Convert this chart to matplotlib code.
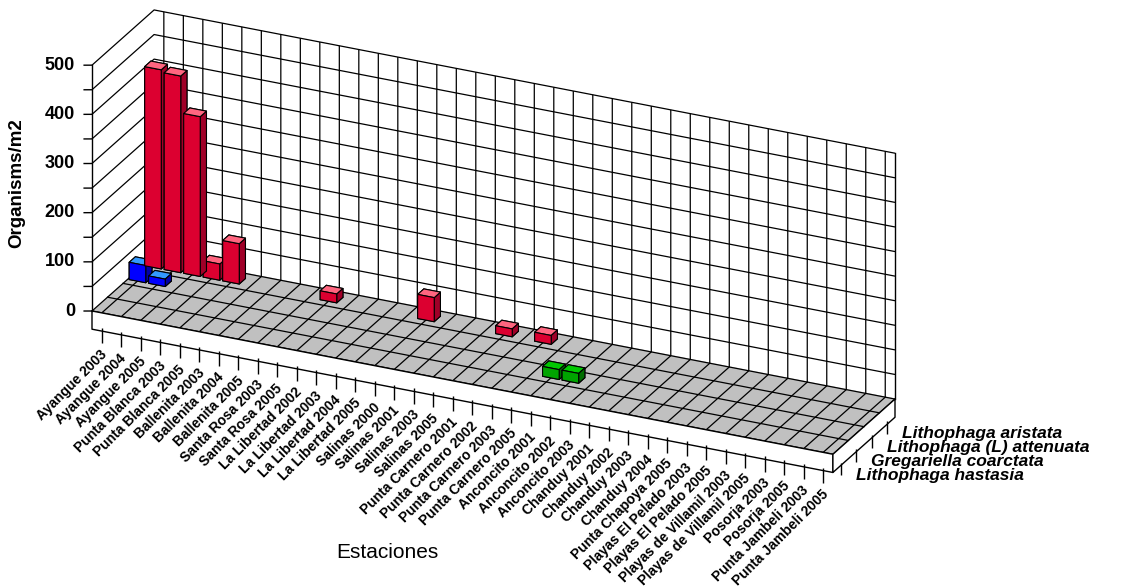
import numpy as np
import matplotlib
matplotlib.use("Agg")
import matplotlib.pyplot as plt
from matplotlib.transforms import IdentityTransform
from mpl_toolkits.mplot3d import proj3d
from mpl_toolkits.mplot3d.art3d import Poly3DCollection, Line3DCollection

plt.rcParams["font.family"] = ["Liberation Sans", "DejaVu Sans"]
plt.rcParams["grid.color"] = "black"
plt.rcParams["grid.linewidth"] = 0.9
plt.rcParams["axes.edgecolor"] = "black"

estaciones = ["Ayangue 2003", "Ayangue 2004", "Ayangue 2005", "Punta Blanca 2003",
              "Punta Blanca 2005", "Ballenita 2003", "Ballenita 2004", "Ballenita 2005",
              "Santa Rosa 2003", "Santa Rosa 2005", "La Libertad 2002", "La Libertad 2003",
              "La Libertad 2004", "La Libertad 2005", "Salinas 2000", "Salinas 2001",
              "Salinas 2003", "Salinas 2005", "Punta Carnero 2001", "Punta Carnero 2002",
              "Punta Carnero 2003", "Punta Carnero 2005", "Anconcito 2001", "Anconcito 2002",
              "Anconcito 2003", "Chanduy 2001", "Chanduy 2002", "Chanduy 2003",
              "Chanduy 2004", "Punta Chapoya 2005", "Playas El Pelado 2003",
              "Playas El Pelado 2005", "Playas de Villamil 2003", "Playas de Villamil 2005",
              "Posorja 2003", "Posorja 2005", "Punta Jambeli 2003", "Punta Jambeli 2005"]

especies = ["Lithophaga hastasia", "Gregariella coarctata",
            "Lithophaga (L) attenuata", "Lithophaga aristata"]

# organisms/m2, one value per station (front row first)
hastasia = [0, 0, 0, 0, 0, 0, 0, 0, 0, 0, 0, 0, 0, 0, 0, 0, 0, 0, 0,
            0, 0, 0, 0, 0, 0, 0, 0, 0, 0, 0, 0, 0, 0, 0, 0, 0, 0, 0]
coarctata = [0, 0, 0, 0, 0, 0, 0, 0, 0, 0, 0, 0, 0, 0, 0, 0, 0, 0, 0,
             0, 0, 0, 20, 20, 0, 0, 0, 0, 0, 0, 0, 0, 0, 0, 0, 0, 0, 0]
attenuata = [35, 15, 0, 0, 0, 0, 0, 0, 0, 0, 0, 0, 0, 0, 0, 0, 0, 0, 0,
             0, 0, 0, 0, 0, 0, 0, 0, 0, 0, 0, 0, 0, 0, 0, 0, 0, 0, 0]
aristata = [405, 400, 325, 33, 82, 0, 0, 0, 0, 18, 0, 0, 0, 0, 49, 0, 0, 0, 16,
            0, 18, 0, 0, 0, 0, 0, 0, 0, 0, 0, 0, 0, 0, 0, 0, 0, 0, 0]

# front, top, side colour for each series
colores = [("#FF00FF", "#FF66FF", "#AA00AA"),
           ("#00A400", "#00C800", "#006E00"),
           ("#0000FF", "#3399FF", "#0000A8"),
           ("#DC0030", "#FF6680", "#A00028")]

W, H = 1125, 588
n = len(estaciones)
t = 37  # floor slab thickness in value units

fig = plt.figure(figsize=(W / 100, H / 100), dpi=100)
ax = fig.add_axes([0, 0, 1, 1], projection="3d", proj_type="ortho", computed_zorder=False)
ax.set_box_aspect((814.6, 146.4, 269.2))
ax.view_init(elev=24.5, azim=-65)
ax.set_xlim(-0.5, n - 0.5)
ax.set_ylim(-0.5, 3.5)
ax.set_zlim(0, 500)

ax.set_xticks(range(n))
ax.set_yticks([0.5, 1.5, 2.5])
ax.set_zticks(range(0, 501, 50))
ax.set_xticklabels([])
ax.set_yticklabels([])
ax.set_zticklabels([])
for axis in (ax.xaxis, ax.yaxis, ax.zaxis):
    axis.line.set_color("black")
    axis.line.set_linewidth(1.0)
    axis.pane.set_edgecolor("black")
    axis.pane.set_linewidth(1.0)
    axis._axinfo["tick"]["inward_factor"] = 0
    axis._axinfo["tick"]["outward_factor"] = 0
ax.xaxis.set_pane_color((1, 1, 1, 1))
ax.yaxis.set_pane_color((1, 1, 1, 1))
ax.zaxis.set_pane_color("#C0C0C0")
ax.yaxis.gridlines.set_visible(False)

# floor slab
slab = Poly3DCollection([
    [(-0.5, -0.5, 0), (n - 0.5, -0.5, 0), (n - 0.5, -0.5, -t), (-0.5, -0.5, -t)],
    [(n - 0.5, -0.5, 0), (n - 0.5, 3.5, 0), (n - 0.5, 3.5, -t), (n - 0.5, -0.5, -t)],
], facecolor="white", edgecolor="black", linewidth=1.0, zorder=1)
ax.add_collection3d(slab)

# floor lines between series rows
for yb in [0.5, 1.5, 2.5]:
    ax.plot([-0.5, n - 0.5], [yb, yb], [0, 0], color="black", lw=0.9, zorder=1.5)

# value axis on the front-left edge, ticks pointing left
ax.plot([-0.5, -0.5], [-0.5, -0.5], [0, 500], color="black", lw=1.0, zorder=1.5)
zt = [[(-0.5, -0.5, v), (-0.5 - 0.36, -0.5 - 0.1, v)] for v in range(0, 501, 50)]
ax.add_collection3d(Line3DCollection(zt, colors="black", linewidths=1.0, zorder=1.5))

# tick marks under the slab
ticks = [[(i, -0.5, -t + 6), (i, -0.5, -t - 25)] for i in range(n)]
ax.add_collection3d(Line3DCollection(ticks, colors="black", linewidths=1.0, zorder=1.5))
sticks = [[(n - 0.5, yb, -t + 6), (n - 0.5, yb, -t - 20)] for yb in [0, 1, 2, 3]]
ax.add_collection3d(Line3DCollection(sticks, colors="black", linewidths=1.0, zorder=1.5))

# bars
bx, by, bh, bc = [], [], [], []
for r, valores in enumerate([hastasia, coarctata, attenuata, aristata]):
    fr, tp, sd = colores[r]
    for i, v in enumerate(valores):
        if v > 0:
            bx.append(i)
            by.append(r)
            bh.append(v)
            bc += [fr, tp, fr, fr, fr, sd]
dx, dy = 0.85, 0.4
ax.bar3d(np.array(bx) - dx / 2, np.array(by) - dy / 2, np.zeros(len(bx)), dx, dy, bh,
         color=bc, shade=False, edgecolor="black", linewidth=0.8, zorder=3)


def to_px(x, y, z):
    X, Y, _ = proj3d.proj_transform(x, y, z, ax.M)
    return np.array(ax.transData.transform((X, Y)))


# fit the box into the place it takes in the original picture
fig.canvas.draw()
a = to_px(-0.5, -0.5, 0)
b = to_px(n - 0.5, 3.5, 0)
f = (895 - 92) / (b[0] - a[0])
pos = ax.get_position()
S = pos.width * W
c = np.array([(pos.x0 + pos.width / 2) * W, (pos.y0 + pos.height / 2) * H])
S2 = S * f
c2 = np.array([92, H - 311]) - f * (a - c)
ax.set_position([(c2[0] - S2 / 2) / W, (c2[1] - S2 / 2) / H, S2 / W, S2 / H])
fig.canvas.draw()


def put(x, y, z, s, ox=0, oy=0, **kw):
    px, py = to_px(x, y, z)
    fig.text(px + ox, py + oy, s, transform=IdentityTransform(), **kw)


for i, nombre in enumerate(estaciones):
    put(i, -0.5, -t, nombre, 3, -21, rotation=45, ha="right", va="center",
        rotation_mode="anchor", fontsize=10, fontweight="bold")

for v in range(0, 501, 100):
    put(-0.5, -0.5, v, str(v), -17, 0, ha="right", va="center",
        fontsize=13, fontweight="bold")

for r, nombre in enumerate(especies):
    put(n - 0.5, r, 0, nombre, 15, -28, ha="left", va="center",
        fontsize=12.5, fontweight="bold", fontstyle="italic")

fig.text(17, H - 183, "Organisms/m2", transform=IdentityTransform(), rotation=90,
         ha="center", va="center", fontsize=13.5, fontweight="bold")
fig.text(387, H - 553, "Estaciones", transform=IdentityTransform(),
         ha="center", va="center", fontsize=15)

fig.savefig("out.png", dpi=100)
